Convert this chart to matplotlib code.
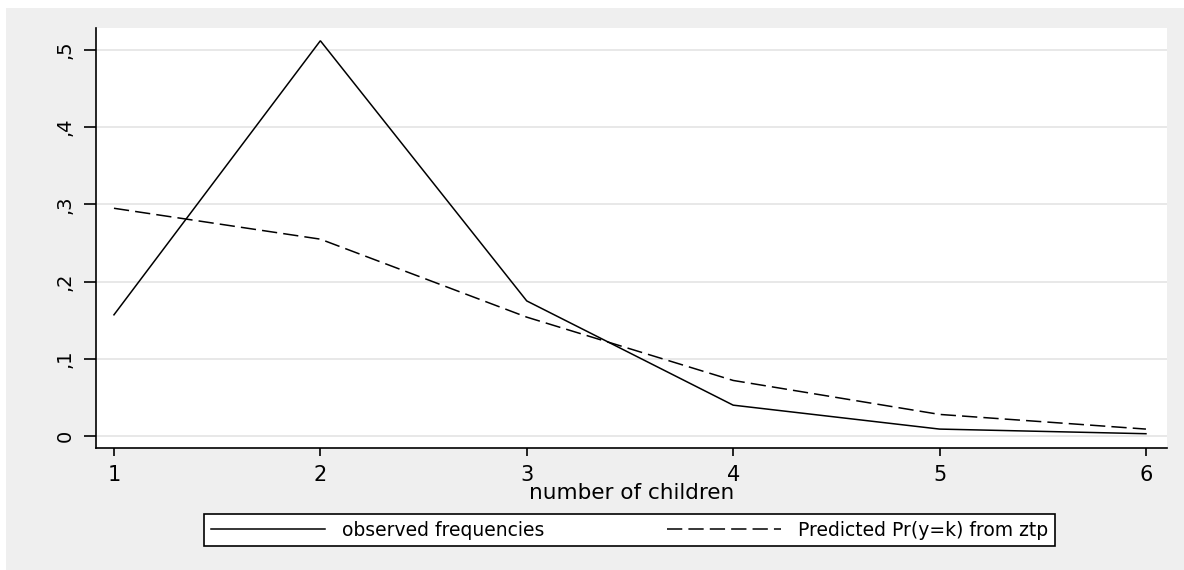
import matplotlib
matplotlib.use('Agg')
import matplotlib.pyplot as plt
from matplotlib.patches import Rectangle
from matplotlib.ticker import FuncFormatter

# values
children = [1, 2, 3, 4, 5, 6]
observed = [0.157, 0.512, 0.175, 0.040, 0.009, 0.003]
predicted = [0.295, 0.255, 0.154, 0.072, 0.028, 0.009]
y_ticks = [0, 0.1, 0.2, 0.3, 0.4, 0.5]
labels = ['observed frequencies', 'Predicted Pr(y=k) from ztp']

# the reference text is wide (stretched Arial), DejaVu Sans comes closest
plt.rcParams['font.family'] = ['DejaVu Sans']

W, H = 1184, 570
fig = plt.figure(figsize=(W / 100, H / 100), dpi=100, facecolor='white')
# grey graph region, leaves a thin white strip at top and left
fig.patches.append(Rectangle((6 / W, 0), 1, 1 - 8 / H, transform=fig.transFigure,
                             facecolor='#efefef', edgecolor='none', zorder=-10))

ax = fig.add_axes([96 / W, 1 - 448 / H, (1167 - 96) / W, (448 - 28) / H])
ax.set_facecolor('white')

l1, = ax.plot(children, observed, color='black', lw=1.1, solid_joinstyle='miter')
l2, = ax.plot(children, predicted, color='black', lw=1.1, dashes=(10, 4))

ax.set_xlim(0.913, 6.102)
ax.set_ylim(-0.0155, 0.5285)
ax.set_xticks(children)
ax.set_yticks(y_ticks)
ax.yaxis.set_major_formatter(FuncFormatter(
    lambda v, p: '0' if abs(v) < 1e-9 else ('%.1f' % v).lstrip('0').replace('.', ',')))

ax.grid(axis='y', color='#e6e6e6', lw=1.3)
ax.set_axisbelow(True)
for s in ['top', 'right']:
    ax.spines[s].set_visible(False)
for s in ['left', 'bottom']:
    ax.spines[s].set_linewidth(1.2)

ax.tick_params(axis='x', direction='out', length=6, width=1.2, pad=6, labelsize=15)
ax.tick_params(axis='y', direction='out', length=9, width=1.2, pad=6.5, labelsize=14,
               labelrotation=90)
for t in ax.get_yticklabels():
    t.set_va('center')

ax.set_xlabel('number of children', fontsize=15.5, labelpad=-1)

leg = fig.legend([l1, l2], labels, loc='center', ncol=2, mode='expand',
                 bbox_to_anchor=(204 / W, 1 - 548 / H, (1055 - 204) / W, 36 / H),
                 fontsize=13.5, handlelength=6.1, handletextpad=0.9, columnspacing=2.3,
                 fancybox=False, framealpha=1, borderaxespad=0, borderpad=0.35)
leg.get_frame().set_edgecolor('black')
leg.get_frame().set_linewidth(1.2)

fig.savefig('out.png', dpi=100, facecolor=fig.get_facecolor())
